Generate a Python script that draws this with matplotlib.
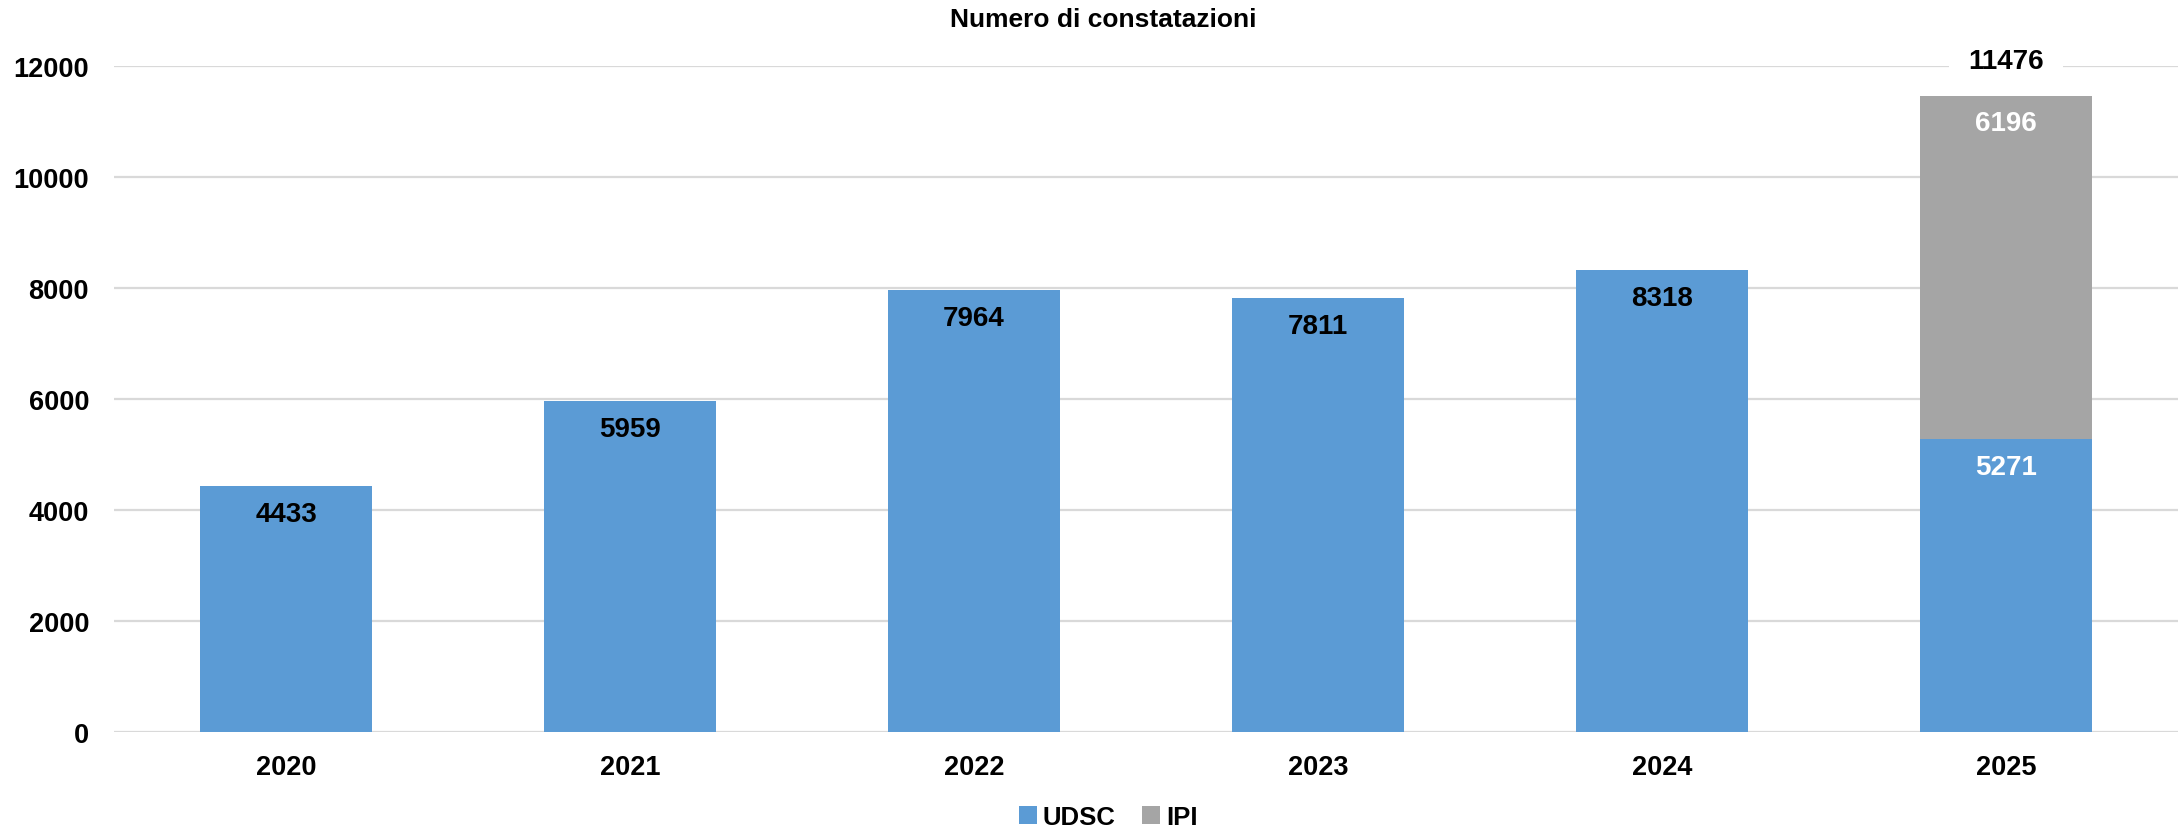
import numpy as np
import matplotlib.pyplot as plt
from matplotlib.patches import Patch

plt.rcParams['font.family'] = ['Liberation Sans', 'DejaVu Sans']
plt.rcParams['font.weight'] = 'bold'

years = ["2020", "2021", "2022", "2023", "2024", "2025"]
udsc = [4433, 5959, 7964, 7811, 8318, 5271]
ipi = [0, 0, 0, 0, 0, 6196]
# total label as printed on the source chart
totals = [None, None, None, None, None, 11476]
udsc_color = "#5B9BD5"
ipi_color = "#A5A5A5"

W, H = 2183, 828
fig = plt.figure(figsize=(W / 100, H / 100), dpi=100)
ax = fig.add_axes([114 / W, 95 / H, (2178 - 114) / W, (733 - 67) / H])

x = np.arange(len(years))
udsc = np.array(udsc)
ipi = np.array(ipi)
ax.bar(x, udsc, width=0.5, color=udsc_color, zorder=2)
ax.bar(x, ipi, width=0.5, bottom=udsc, color=ipi_color, zorder=2)

ax.set_xlim(-0.5, len(years) - 0.5)
ax.set_ylim(0, 12000)
ax.set_yticks(np.arange(0, 12001, 2000))
ax.set_xticks(x)
ax.set_xticklabels(years)
ax.tick_params(axis='both', length=0, labelsize=19.5)
ax.tick_params(axis='y', pad=18)
ax.tick_params(axis='x', pad=16)
for s in ax.spines.values():
    s.set_visible(False)
ax.grid(axis='y', color='#D9D9D9', linewidth=1.6, zorder=0)
ax.set_axisbelow(True)

for i in range(len(years)):
    stacked = ipi[i] > 0
    col = 'white' if stacked else 'black'
    ax.annotate(str(udsc[i]), (x[i], udsc[i]), xytext=(0, -20), textcoords='offset points',
                ha='center', va='center', fontsize=20, fontweight='bold', color=col, zorder=3)
    if stacked:
        top = udsc[i] + ipi[i]
        ax.annotate(str(ipi[i]), (x[i], top), xytext=(0, -20), textcoords='offset points',
                    ha='center', va='center', fontsize=20, fontweight='bold', color='white', zorder=3)
    if totals[i] is not None:
        top = udsc[i] + ipi[i]
        ax.annotate(str(totals[i]), (x[i], top), xytext=(0, 25), textcoords='offset points',
                    ha='center', va='center', fontsize=20, fontweight='bold', color='black', zorder=4,
                    bbox=dict(boxstyle='square,pad=0.7', facecolor='white', edgecolor='none'),
                    annotation_clip=False)

fig.text(1103 / W, 1 - 20 / H, "Numero di constatazioni", ha='center', va='center',
         fontsize=19, fontweight='bold')

handles = [Patch(facecolor=udsc_color, label='UDSC'), Patch(facecolor=ipi_color, label='IPI')]
fig.legend(handles=handles, loc='center', bbox_to_anchor=(1108 / W, 1 - 818 / H), ncol=2,
           frameon=False, fontsize=18.5, handlelength=0.7, handleheight=0.7, handletextpad=0.25,
           columnspacing=1.0, borderpad=0)

fig.savefig('out.png', dpi=100)
